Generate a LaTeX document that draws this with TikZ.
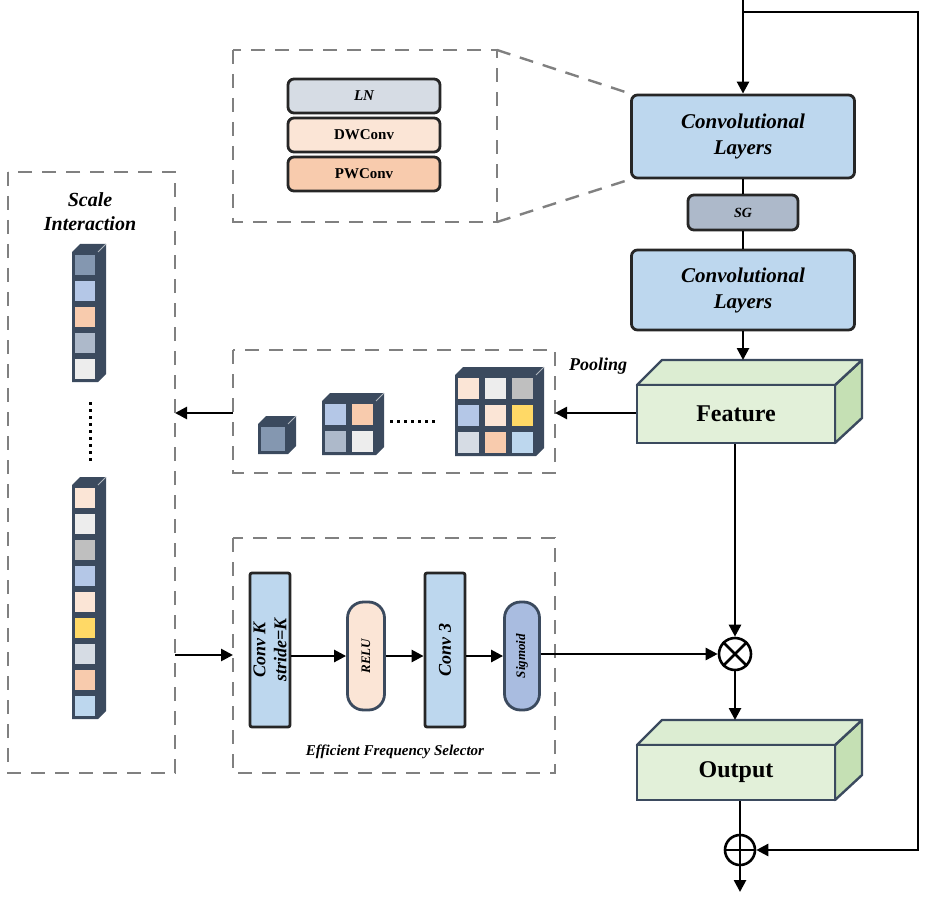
\documentclass[tikz,border=0pt]{standalone}
\usepackage{fontspec}
\setmainfont{Liberation Serif}
\usetikzlibrary{positioning}
\usetikzlibrary{arrows.meta}

\definecolor{dk}{HTML}{3B4A5E}
\definecolor{convblue}{HTML}{BDD7EE}
\definecolor{sgray}{HTML}{ADB9CA}
\definecolor{lnc}{HTML}{D6DCE4}
\definecolor{dwc}{HTML}{FBE5D6}
\definecolor{pwc}{HTML}{F8CBAD}
\definecolor{sigc}{HTML}{A9BCE0}
\definecolor{featg}{HTML}{E2F0D9}
\definecolor{featd}{HTML}{C5E0B4}
\definecolor{cA}{HTML}{8497B0}
\definecolor{cB}{HTML}{B4C7E7}
\definecolor{cC}{HTML}{EDEDED}
\definecolor{cD}{HTML}{BFBFBF}
\definecolor{cY}{HTML}{FFD966}

\tikzset{
  blk/.style={draw=black!85, line width=1.4pt, rounded corners=3pt, font=\bfseries\itshape, align=center, inner sep=0pt},
  pill/.style={draw=dk, line width=1.4pt, rounded corners=8pt, inner sep=0pt},
  dbox/.style={draw=gray, dashed, line width=1.2pt, dash pattern=on 7pt off 5pt},
  arr/.style={line width=1.3pt, -{Triangle[length=6pt,width=6pt]}},
}

% cube made of cells: x, y, cols, rows, size, colours
\newcommand\cellgrid[6]{%
  \pgfmathsetmacro\gw{#3*#5}\pgfmathsetmacro\gh{#4*#5}
  \fill[dk, line join=round] (#1,#2) -- ++(8,-8) -- ++(\gw,0) -- ++(0,\gh) -- ++(-8,8) -- ++(-\gw,0) -- cycle;
  \draw[white!60!dk] (#1+\gw,#2) -- ++(8,-8);
  \foreach \c [count=\i from 0] in {#6} {
    \pgfmathsetmacro\cx{#1+mod(\i,#3)*#5}
    \pgfmathsetmacro\cy{#2+floor(\i/#3)*#5}
    \fill[\c] (\cx+3,\cy+3) rectangle ++(#5-6,#5-6);
  }
}

\begin{document}
\begin{tikzpicture}[x=0.5pt, y=-0.5pt]
	\useasboundingbox (0,0) rectangle (935,898);

	% Main branch %
	\node[blk, fill=convblue, minimum width=111.5pt, minimum height=41.5pt, font=\bfseries\itshape\fontsize{10.5}{13}\selectfont] (conv1) at (743,136.5) {Convolutional\\Layers};
	\node[blk, fill=sgray, minimum width=55pt, minimum height=17.5pt, font=\bfseries\itshape\fontsize{7}{8}\selectfont] (sg) at (743,212.5) {SG};
	\node[blk, fill=convblue, minimum width=111.5pt, minimum height=40pt, font=\bfseries\itshape\fontsize{10.5}{13}\selectfont] (conv2) at (743,290) {Convolutional\\Layers};
	\draw[line width=1.4pt] (conv1) -- (sg) -- (conv2);
	\coordinate (top) at (743,0);
	\coordinate (rtop) at (743,12);
	\draw[arr] (top) -- (conv1);

	% Feature slab %
	\draw[dk, line width=1.2pt, fill=featd, line join=round] (835,385) -- (862,360) -- (862,418) -- (835,443) -- cycle;
	\draw[dk, line width=1.2pt, fill=featg!80!featd, line join=round] (637,385) -- (662,360) -- (862,360) -- (835,385) -- cycle;
	\node[draw=dk, line width=1.2pt, fill=featg, minimum width=99pt, minimum height=29pt, font=\bfseries\fontsize{12}{14}\selectfont] (feat) at (736,414) {Feature};
	\coordinate (feattop) at (743,360);
	\draw[arr] (conv2) -- (feattop);
	\node[font=\bfseries\itshape\fontsize{9}{11}\selectfont] (pool) at (598,366) {Pooling};

	% Pooling box %
	\draw[dbox] (233,350) rectangle (555,473);
	\coordinate (poolR) at (555,413);
	\coordinate (poolL) at (233,413);
	\coordinate (scaleR) at (175,413);
	\draw[arr] (feat.west |- poolR) -- (poolR);
	\draw[arr] (poolL) -- (scaleR);
	\cellgrid{258}{424}{1}{1}{30}{cA}
	\cellgrid{322}{401}{2}{2}{27}{cB,pwc,sgray,cC}
	\cellgrid{455}{375}{3}{3}{27}{dwc,cC,cD,cB,dwc,cY,lnc,pwc,convblue}
	\draw[line width=1.5pt, dotted] (390,421) -- (437,421);

	% Scale interaction %
	\draw[dbox] (8,172) rectangle (175,773);
	\node[font=\bfseries\itshape\fontsize{10}{12}\selectfont, align=center] (scl) at (90,212) {Scale\\Interaction};
	\cellgrid{72}{252}{1}{5}{26}{cA,cB,pwc,sgray,cC}
	\draw[line width=1.5pt, dotted] (90,402) -- (90,462);
	\cellgrid{72}{485}{1}{9}{26}{dwc,cC,cD,cB,dwc,cY,lnc,pwc,convblue}

	% Efficient frequency selector %
	\draw[dbox] (233,538) rectangle (555,773);
	\node[font=\bfseries\itshape\fontsize{7.5}{9}\selectfont] (efs) at (395,752) {Efficient Frequency Selector};
	\coordinate (scaleO) at (175,655);
	\coordinate (efsL) at (233,655);
	\draw[arr] (scaleO) -- (efsL);
	\node[blk, rounded corners=1pt, fill=convblue, minimum width=20pt, minimum height=77pt] (ck) at (270,650) {};
	\node[rotate=90, font=\bfseries\itshape\fontsize{9}{10.5}\selectfont, align=center] at (ck) {Conv K\\stride=K};
	\node[pill, fill=dwc, minimum width=18.5pt, minimum height=54pt] (relu) at (366,656) {};
	\node[rotate=90, font=\bfseries\itshape\fontsize{6.5}{8}\selectfont] at (relu) {RELU};
	\node[blk, rounded corners=1pt, fill=convblue, minimum width=20pt, minimum height=77pt] (c3) at (445,650) {};
	\node[rotate=90, font=\bfseries\itshape\fontsize{9}{10.5}\selectfont] at (c3) {Conv 3};
	\node[pill, fill=sigc, minimum width=17.5pt, minimum height=54pt] (sig) at (522,656) {};
	\node[rotate=90, font=\bfseries\itshape\fontsize{6.5}{8}\selectfont] at (sig) {Sigmoid};
	\draw[arr] (ck.east |- relu) -- (relu);
	\draw[arr] (relu) -- (c3.west |- relu);
	\draw[arr] (c3.east |- sig) -- (sig);

	% Fusion %
	\node[circle, draw=black, line width=1.3pt, minimum size=16pt, inner sep=0pt] (mul) at (735,654) {};
	\draw[line width=1.3pt] (mul.north west) -- (mul.south east) (mul.north east) -- (mul.south west);
	\draw[arr] (sig.east |- mul) -- (mul);
	\draw[arr] (feat.south -| mul) -- (mul);

	% Output slab %
	\draw[dk, line width=1.2pt, fill=featd, line join=round] (835,745) -- (862,720) -- (862,775) -- (835,800) -- cycle;
	\draw[dk, line width=1.2pt, fill=featg!80!featd, line join=round] (637,745) -- (662,720) -- (862,720) -- (835,745) -- cycle;
	\node[draw=dk, line width=1.2pt, fill=featg, minimum width=99pt, minimum height=27.5pt, font=\bfseries\fontsize{12}{14}\selectfont] (out) at (736,772.5) {Output};
	\coordinate (outtop) at (735,720);
	\draw[arr] (mul) -- (outtop);

	\node[circle, draw=black, line width=1.3pt, minimum size=15pt, inner sep=0pt] (add) at (740,850) {};
	\draw[line width=1.3pt] (add.north) -- (add.south) (add.west) -- (add.east);
	\coordinate (bot) at (740,892);
	\coordinate (rbot) at (918,850);
	\draw[line width=1.3pt] (out.south -| add) -- (add);
	\draw[arr] (add) -- (bot);
	\draw[arr] (rtop) -| (rbot) -- (add);

	% Zoom of convolutional layers %
	\draw[dbox] (233,50) rectangle (497,222);
	\draw[dbox] (497,50) -- (conv1.north west);
	\draw[dbox] (497,222) -- (conv1.south west);
	\node[blk, fill=lnc, minimum width=76pt, minimum height=17pt, font=\bfseries\itshape\fontsize{7.5}{9}\selectfont] (ln) at (364,96) {LN};
	\node[blk, fill=dwc, minimum width=76pt, minimum height=17pt, font=\bfseries\fontsize{7.5}{9}\selectfont] (dw) at (364,135) {DWConv};
	\node[blk, fill=pwc, minimum width=76pt, minimum height=17pt, font=\bfseries\fontsize{7.5}{9}\selectfont] (pw) at (364,174) {PWConv};
\end{tikzpicture}
\end{document}
